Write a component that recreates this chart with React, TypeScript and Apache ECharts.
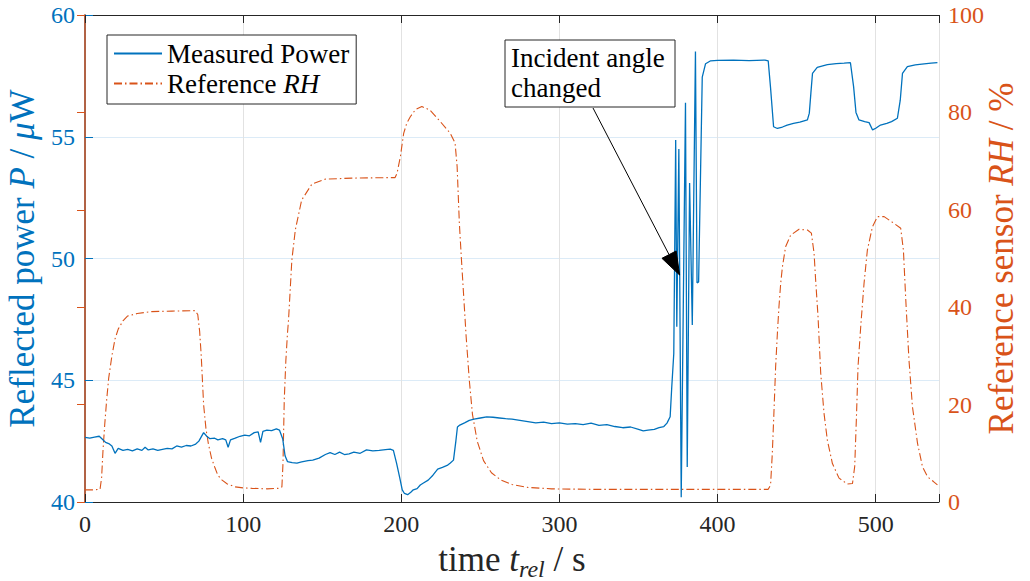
import React, { useEffect, useRef } from "react";
import * as echarts from "echarts";

// ---- data ----
const timeP = [
  0, 3, 6, 9, 11, 13, 15, 17, 19, 21, 24, 27, 30, 33, 36, 38, 40, 43, 46, 49, 52, 55, 58, 61, 64, 67, 70, 72,
  75, 77, 79, 82, 84, 87, 89, 90.5, 92, 95, 98, 101, 104, 107, 109.5, 111, 112.5, 115, 118, 121, 123, 125,
  126.5, 128, 131, 134, 137, 141, 144, 148, 152, 155, 158, 161, 164, 167, 170, 174, 178, 182, 186, 190, 193,
  195, 197, 199, 200.6, 202, 204, 206, 207.6, 210, 212, 214, 217, 220, 223, 226, 229, 231, 233, 234.5, 235.5,
  237, 240, 243, 246, 250, 254, 258, 262, 266, 270, 275, 280, 285, 290, 295, 300, 305, 310, 315, 320, 325,
  330, 335, 340, 345, 350, 353, 356, 360, 363, 366, 368, 370, 371, 372.3, 373.5, 374.2, 375.5, 377, 379.7,
  380.8, 382.3, 384, 386, 387, 388, 390.3, 392.4, 395.6, 400, 410, 420, 430, 432, 433.5, 435.4, 437.8, 441,
  444, 448, 452, 456.8, 458, 459, 460, 463, 469.4, 475, 480, 484, 486, 487.5, 489.4, 493, 495.8, 498, 500,
  503, 507, 510, 513.7, 515.5, 516.9, 520, 525, 530.6, 535, 539,
];
const powerP = [
  42.65, 42.62, 42.66, 42.7, 42.58, 42.45, 42.4, 42.3, 42.0, 42.2, 42.12, 42.16, 42.1, 42.18, 42.12, 42.25,
  42.14, 42.18, 42.12, 42.16, 42.2, 42.18, 42.3, 42.25, 42.32, 42.3, 42.38, 42.5, 42.85, 42.7, 42.6, 42.62,
  42.55, 42.6, 42.55, 42.25, 42.55, 42.62, 42.7, 42.75, 42.72, 42.85, 42.88, 42.45, 42.9, 42.95, 42.93, 43.0,
  42.95, 42.6, 41.9, 41.66, 41.62, 41.6, 41.65, 41.7, 41.72, 41.8, 41.95, 42.03, 41.95, 42.05, 41.95, 41.98,
  42.05, 42.0, 42.14, 42.1, 42.12, 42.15, 42.17, 42.12, 41.6, 41.0, 40.5, 40.35, 40.3, 40.4, 40.5, 40.55,
  40.7, 40.78, 40.9, 41.1, 41.35, 41.42, 41.5, 41.6, 41.72, 42.5, 43.08, 43.16, 43.25, 43.35, 43.4, 43.45,
  43.5, 43.48, 43.45, 43.42, 43.4, 43.35, 43.3, 43.25, 43.28, 43.22, 43.25, 43.2, 43.22, 43.18, 43.24, 43.15,
  43.18, 43.1, 43.05, 43.08, 42.98, 42.92, 42.95, 42.98, 43.05, 43.1, 43.24, 43.5, 44.7, 46.1, 54.87, 47.2,
  54.5, 40.2, 56.4, 41.44, 53.1, 47.27, 58.5, 49.0, 49.04, 57.45, 58.0, 58.12, 58.14, 58.15, 58.13, 58.15,
  58.12, 57.0, 55.41, 55.34, 55.4, 55.48, 55.55, 55.6, 55.69, 55.97, 56.8, 57.6, 57.85, 57.96, 58.0, 58.02,
  58.04, 57.06, 56.0, 55.69, 55.62, 55.58, 55.28, 55.35, 55.48, 55.55, 55.62, 55.76, 56.5, 57.6, 57.88, 57.95,
  57.99, 58.02, 58.04,
];

const timeRH = [
  0, 5, 9.5, 10.5, 11.4, 12.5, 13.7, 15, 17, 19, 21, 24, 27, 33, 42, 55, 69.6, 71.3, 72.5, 73.5, 75, 76.5, 78,
  80, 82, 84, 86.7, 90, 95, 100, 105.7, 115, 122, 124.5, 125.2, 126, 127, 128, 128.7, 130.8, 133, 137, 143.5,
  152, 168.8, 190, 196, 197.3, 199.4, 201.5, 203.5, 205.7, 209, 213, 218, 224.7, 231, 234, 235.3, 236.7, 238,
  239.5, 241, 243, 245, 248, 252, 257, 263, 270, 280, 295, 320, 360, 400, 432, 433.5, 434.6, 435.6, 436.7,
  437.8, 438.8, 439.9, 441, 443, 446.2, 451.5, 456.8, 459.3, 461, 462, 463.5, 465.2, 467.3, 469.4, 472.6,
  476.8, 482, 485.3, 486.7, 487.8, 488.8, 490.5, 492.6, 494.7, 497.9, 501.1, 505.3, 511.6, 515.8, 517.5, 519,
  521, 523.2, 526.4, 529.5, 532.7, 536.5, 539,
];
const rhRef = [
  2.5, 2.5, 2.6, 5, 10.7, 16, 21, 25.5, 30, 33.5, 35.5, 37.2, 38.2, 38.7, 39.1, 39.2, 39.3, 38.5, 35, 30, 20,
  15, 12, 9, 7.2, 5.5, 4.5, 3.7, 3.1, 2.9, 2.8, 2.7, 2.8, 3.1, 8, 21, 29, 34.5, 37.4, 49.7, 55.9, 62, 65.3,
  66.3, 66.5, 66.6, 66.6, 67.5, 70.9, 75.7, 77.8, 79.1, 80.6, 81.2, 80.5, 78.1, 75.7, 73.7, 68.9, 57.3, 50,
  42, 34, 25, 18, 12.5, 8.5, 6, 4.5, 3.6, 3.0, 2.7, 2.6, 2.6, 2.6, 2.6, 3.5, 10, 18.2, 27.8, 34.6, 40.1, 44.9,
  48.3, 52.4, 54.8, 56.0, 55.85, 55.2, 51.1, 45.6, 38.1, 26.5, 18.2, 12.7, 7.9, 4.9, 3.7, 3.8, 7.3, 17.5, 27.8,
  36, 44.9, 51.7, 56.5, 58.6, 58.6, 57.2, 56.2, 51.7, 41.5, 29.2, 19.6, 12.1, 7.3, 5.2, 4.2, 3.5,
];

const xRange = [0, 540];
const xStep = 100;
const powerRange = [40, 60];
const powerStep = 5;
const rhRange = [0, 100];
const rhStep = 20;
const arrowTarget = [376, 49.32];

const BLUE = "#0072BD";
const ORANGE = "#D95319";
const DARK = "#262626";
const FONT = "Liberation Serif";

export default function App() {
  const ref = useRef<HTMLDivElement>(null);

  useEffect(() => {
    const chart = echarts.init(ref.current!, null, { renderer: "svg" });
    const titleSize = 35;
    const legendSize = 27;
    const option: any = {
      animation: false,
      backgroundColor: "#ffffff",
      textStyle: { fontFamily: FONT },
      grid: { left: 85, right: 91, top: 15, bottom: 79, containLabel: false, outerBoundsMode: "none" },
      legend: {
        left: 107,
        top: 35,
        orient: "vertical",
        backgroundColor: "#ffffff",
        borderColor: DARK,
        borderWidth: 1,
        borderRadius: 0,
        padding: [5, 7, 7, 6],
        itemGap: 3,
        itemWidth: 48,
        itemHeight: 24,
        itemStyle: { opacity: 0, color: "rgba(0,0,0,0)", borderWidth: 0 },
        data: ["Measured Power", "Reference RH"],
        formatter: (n: string) => (n === "Reference RH" ? "Reference {i|RH}" : n),
        textStyle: {
          fontSize: legendSize,
          color: "#000",
          fontFamily: FONT,
          rich: { i: { fontSize: legendSize, fontStyle: "italic", fontFamily: FONT, color: "#000" } },
        },
      },
      xAxis: [
        {
          type: "value",
          position: "bottom",
          min: xRange[0],
          max: xRange[1],
          interval: xStep,
          name: "time {i|t}{s|rel} / s",
          nameLocation: "middle",
          nameGap: 36,
          nameMoveOverlap: false,
          nameTextStyle: {
            fontSize: titleSize,
            color: DARK,
            fontFamily: FONT,
            rich: {
              i: { fontSize: titleSize, fontStyle: "italic", fontFamily: FONT, color: DARK },
              s: { fontSize: 24, fontStyle: "italic", fontFamily: FONT, color: DARK, padding: [19, 0, 0, 0] },
            },
          },
          axisLine: { show: true, lineStyle: { color: DARK, width: 1 } },
          axisTick: { show: true, inside: true, length: 8, lineStyle: { color: DARK } },
          axisLabel: {
            color: DARK,
            fontSize: 24,
            margin: 10,
            fontFamily: FONT,
            formatter: (v: number) => (v % xStep === 0 ? String(v) : ""),
          },
          splitLine: { show: true, lineStyle: { color: "#e2e2e2", width: 1 } },
        },
        {
          type: "value",
          position: "top",
          min: xRange[0],
          max: xRange[1],
          interval: xStep,
          axisLine: { show: true, lineStyle: { color: DARK, width: 1 } },
          axisTick: { show: true, inside: true, length: 8, lineStyle: { color: DARK } },
          axisLabel: { show: false },
          splitLine: { show: false },
        },
      ],
      yAxis: [
        {
          type: "value",
          position: "left",
          min: powerRange[0],
          max: powerRange[1],
          interval: powerStep,
          name: "Reflected power {i|P} / {i|μ}W",
          nameLocation: "middle",
          nameRotate: 90,
          nameGap: 41,
          nameTextStyle: {
            fontSize: titleSize,
            color: BLUE,
            fontFamily: FONT,
            rich: { i: { fontSize: titleSize, fontStyle: "italic", fontFamily: FONT, color: BLUE } },
          },
          axisLine: { show: true, lineStyle: { color: BLUE, width: 1.5 } },
          axisTick: { show: true, inside: true, length: 8, lineStyle: { color: BLUE } },
          axisLabel: { color: BLUE, fontSize: 24, margin: 10, fontFamily: FONT },
          splitLine: { show: true, lineStyle: { color: "#dcebf7", width: 1 } },
        },
        {
          type: "value",
          position: "right",
          min: rhRange[0],
          max: rhRange[1],
          interval: rhStep,
          name: "Reference sensor {i|RH} / %",
          nameLocation: "middle",
          nameRotate: 90,
          nameGap: 45,
          nameMoveOverlap: false,
          nameTextStyle: {
            fontSize: titleSize,
            color: ORANGE,
            fontFamily: FONT,
            rich: { i: { fontSize: titleSize, fontStyle: "italic", fontFamily: FONT, color: ORANGE } },
          },
          axisLine: { show: true, lineStyle: { color: ORANGE, width: 1.5 } },
          axisTick: { show: true, inside: true, length: 8, lineStyle: { color: ORANGE } },
          axisLabel: { color: ORANGE, fontSize: 24, margin: 9, fontFamily: FONT },
          splitLine: { show: false },
        },
      ],
      series: [
        {
          type: "line",
          name: "Measured Power",
          xAxisIndex: 0,
          yAxisIndex: 0,
          data: timeP.map((t, i) => [t, powerP[i]]),
          symbol: "none",
          showSymbol: false,
          lineStyle: { color: BLUE, width: 1.3 },
          itemStyle: { color: BLUE },
          z: 3,
        },
        {
          type: "line",
          name: "Reference RH",
          xAxisIndex: 0,
          yAxisIndex: 1,
          data: timeRH.map((t, i) => [t, rhRef[i]]),
          symbol: "none",
          showSymbol: false,
          lineStyle: { color: ORANGE, width: 1.1, type: [8, 3, 1.5, 3] },
          itemStyle: { color: ORANGE },
          z: 2,
        },
      ],
    };
    chart.setOption(option);

    // annotation with arrow pointing at a data location
    const tip = chart.convertToPixel({ xAxisIndex: 0, yAxisIndex: 0 }, arrowTarget) as number[];
    const start = [593, 108];
    const dx = tip[0] - start[0];
    const dy = tip[1] - start[1];
    const len = Math.sqrt(dx * dx + dy * dy);
    const ux = dx / len;
    const uy = dy / len;
    const headLen = 23;
    const headHalf = 8;
    const base = [tip[0] - ux * headLen, tip[1] - uy * headLen];
    const px = -uy;
    const py = ux;
    chart.setOption({
      graphic: [
        {
          type: "line",
          z: 100,
          shape: { x1: start[0], y1: start[1], x2: base[0], y2: base[1] },
          style: { stroke: "#000", lineWidth: 1 },
        },
        {
          type: "polygon",
          z: 100,
          shape: {
            points: [
              [tip[0], tip[1]],
              [base[0] + px * headHalf, base[1] + py * headHalf],
              [base[0] - px * headHalf, base[1] - py * headHalf],
            ],
          },
          style: { fill: "#000", stroke: "#000" },
        },
        {
          type: "rect",
          z: 100,
          shape: { x: 505, y: 40, width: 170, height: 67 },
          style: { fill: "#ffffff", stroke: DARK, lineWidth: 1 },
        },
        {
          type: "text",
          z: 101,
          x: 511,
          y: 43,
          style: {
            text: "Incident angle\nchanged",
            fontSize: 27,
            fontFamily: FONT,
            fill: "#000",
            lineHeight: 30,
          },
        },
      ],
    });

    return () => chart.dispose();
  }, []);

  return (
    <div
      ref={ref}
      style={{ position: "fixed", left: 0, top: 0, width: 1030, height: 581, background: "#fff" }}
    />
  );
}
